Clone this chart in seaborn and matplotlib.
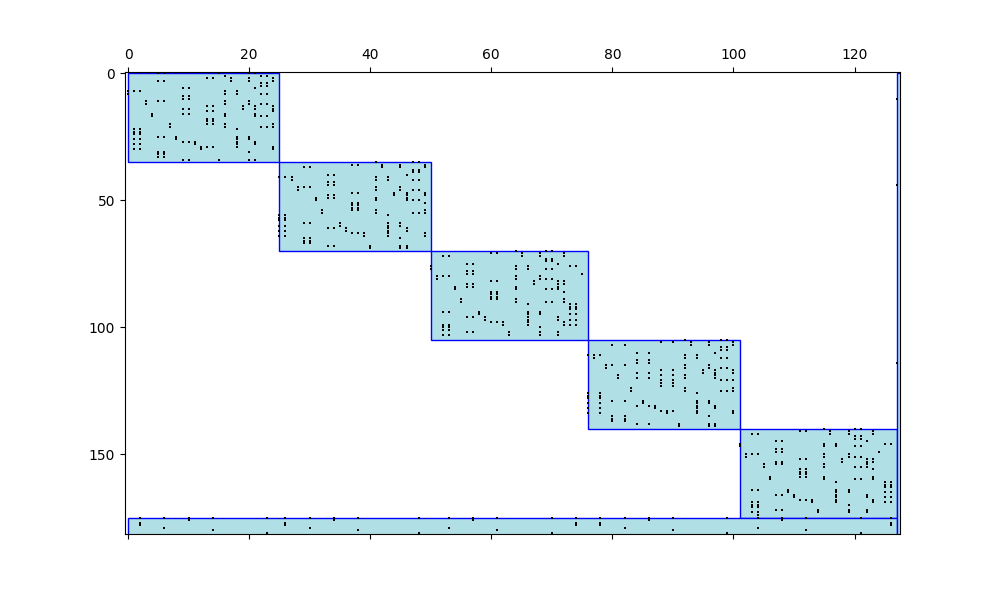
import numpy as np
import pandas as pd
import matplotlib
matplotlib.use("Agg")
import matplotlib.pyplot as plt
from matplotlib.patches import Rectangle
import seaborn as sns

# ---------------- data ----------------
N_ROWS = 182
N_COLS = 128

BLOCK_ROW_STARTS = [0, 35, 70, 105, 140]
BLOCK_COL_STARTS = [0, 25, 50, 76, 101]
BLOCK_WIDTHS = [25, 25, 26, 25, 26]
BLOCK_HEIGHT = 35

# each block: list of rows (local), each row = list of local column indices of nonzeros
BLOCK_1 = [
    [5, 6, 15, 20, 21], [16, 22, 23], [13, 14, 17, 20, 24], [5, 6, 17, 20, 24],
    [22, 23], [22, 23], [9, 10, 21], [0, 1, 2, 16, 18], [0, 16, 18, 22, 23],
    [9, 10], [9, 10], [3, 5, 6, 16, 20], [3, 16, 20, 22, 23],
    [13, 14, 19, 21, 24], [9, 10, 19, 21, 24], [13, 14, 24], [4, 9, 10, 16, 21],
    [4, 16, 21, 22, 23], [13, 14], [13, 14], [7, 13, 14, 16, 24],
    [7, 16, 22, 23, 24], [1, 2, 18], [1, 2], [1, 2], [5, 6, 8, 18, 20],
    [1, 2, 8, 18, 20], [9, 10, 11, 18, 21], [1, 2, 11, 18, 21],
    [12, 13, 14, 18, 24], [1, 2, 12, 24], [5, 6, 20], [5, 6], [5, 6],
    [9, 10, 15, 20, 21],
]
BLOCK_2 = [
    [16, 22, 23], [12, 13, 17, 20, 24], [4, 5, 17, 20, 24], [22, 23], [22, 23],
    [8, 9, 21], [0, 1, 2, 16, 18], [2, 16, 18, 22, 23], [8, 9], [8, 9],
    [3, 4, 5, 16, 20], [3, 16, 20, 22, 23], [12, 13, 19, 21, 24],
    [8, 9, 19, 21, 24], [6, 8, 9, 16, 21], [6, 16, 21, 22, 23], [12, 13, 24],
    [12, 13], [12, 13], [7, 12, 13, 16, 24], [7, 16, 22, 23, 24], [0, 1, 18],
    [0, 1], [0, 1], [4, 5, 10, 18, 20], [0, 1, 10, 18, 20], [8, 9, 11, 18, 21],
    [0, 1, 11, 18, 21], [12, 13, 14, 18, 24], [0, 1, 14, 18, 24], [4, 5, 20],
    [4, 5], [4, 5], [8, 9, 15, 20, 21], [15, 20, 21],
]
BLOCK_3 = [
    [14, 19, 20], [10, 11, 15, 18, 22], [2, 3, 15, 18, 22], [19, 20], [19, 20],
    [6, 7, 21], [0, 14, 16, 23, 24], [0, 14, 16, 19, 20], [6, 7], [6, 7, 25],
    [1, 2, 3, 14, 18], [1, 14, 18, 19, 20], [10, 11, 17, 21, 22],
    [6, 7, 17, 21, 22], [4, 6, 7, 14, 21], [4, 14, 19, 20, 21], [10, 11, 22],
    [10, 11], [10, 11], [5, 10, 11, 14, 22], [5, 14, 19, 20, 22], [16, 23, 24],
    [23, 24], [23, 24], [2, 3, 8, 16, 18], [8, 16, 18, 23, 24],
    [6, 7, 9, 16, 21], [9, 16, 21, 23, 24], [10, 11, 12, 16, 22],
    [2, 3, 12, 16, 22, 23, 24], [2, 3, 18], [2, 3], [6, 7, 13, 18, 21],
    [2, 3, 13, 18, 21], [],
]
BLOCK_4 = [
    [16, 22, 23], [12, 14, 17, 20, 24], [4, 6, 17, 20, 24], [22, 23], [22, 23],
    [8, 10, 21], [0, 1, 2, 16, 18], [1, 16, 18, 22, 23], [8, 10], [8, 10],
    [3, 4, 6, 16, 20], [3, 16, 20, 22, 23], [12, 14, 19, 21, 24],
    [8, 10, 19, 21, 24], [5, 12, 14, 16, 21], [5, 8, 10, 16, 21],
    [12, 14, 22, 23, 24], [12, 14], [12, 14], [7, 16, 24], [7, 16, 22, 23, 24],
    [0, 2, 18], [0, 2], [0, 2], [4, 6, 9, 18, 20], [0, 2, 9, 18, 20],
    [8, 10, 11, 18, 21], [0, 2, 11, 18, 21], [12, 13, 14, 18, 24],
    [0, 2, 13, 18, 24], [4, 6, 20], [4, 6], [4, 6], [8, 10, 15, 20, 21],
    [15, 20, 21],
]
BLOCK_5 = [
    [14, 19, 20], [10, 11, 15, 18, 22], [2, 3, 15, 18, 22], [19, 20], [19, 20],
    [6, 7, 21], [0, 14, 16, 24, 25], [0, 14, 16, 19, 20], [6, 7], [6, 7, 23],
    [1, 2, 3, 14, 18], [1, 14, 18, 19, 20], [10, 11, 17, 21, 22],
    [6, 7, 17, 21, 22], [4, 6, 7, 14, 21], [4, 14, 19, 20, 21], [10, 11, 22],
    [10, 11], [10, 11], [5, 10, 11, 14, 22], [5, 14, 19, 20, 22], [16, 24, 25],
    [24, 25], [24, 25], [2, 3, 8, 16, 18], [8, 16, 18, 24, 25],
    [6, 7, 9, 16, 21], [9, 16, 21, 24, 25], [10, 11, 12, 16, 22],
    [2, 3, 12, 16, 22, 24, 25], [2, 3, 18], [2, 3], [6, 7, 13, 18, 21],
    [2, 3, 13, 18, 21], [3],
]
BLOCKS = [BLOCK_1, BLOCK_2, BLOCK_3, BLOCK_4, BLOCK_5]

# linking rows at the bottom
LINK_ROW_INDEX = [175, 176, 177, 178, 179, 180, 181]
LINK_ROW_COLS = [
    [2, 6, 10, 14, 23, 26, 30, 34, 38, 48, 53, 57, 61, 70, 74, 78, 82, 86, 90,
     99, 104, 108, 112, 121, 126],
    [10, 34, 57, 86, 108],
    [2, 26, 74, 78, 126],
    [2, 26, 74, 78, 126],
    [6, 30, 53, 82, 104],
    [14, 38, 61, 90, 112],
    [23, 48, 70, 99, 121],
]
# linking column at the right
LINK_COL_INDEX = 127
LINK_COL_ROWS = [10, 44, 114]

# ---------------- build nonzero table ----------------
rows, cols = [], []
for blk, r0, c0 in zip(BLOCKS, BLOCK_ROW_STARTS, BLOCK_COL_STARTS):
    for k, rc in enumerate(blk):
        for l in rc:
            rows.append(r0 + k)
            cols.append(c0 + l)
for r, rc in zip(LINK_ROW_INDEX, LINK_ROW_COLS):
    for c in rc:
        rows.append(r)
        cols.append(c)
for r in LINK_COL_ROWS:
    rows.append(r)
    cols.append(LINK_COL_INDEX)
nz = pd.DataFrame({"row": rows, "col": cols})

# ---------------- plot ----------------
fig, ax = plt.subplots(figsize=(10, 6), dpi=100)

FILL = "#b0e0e6"
EDGE = "blue"
for r0, c0, w in zip(BLOCK_ROW_STARTS, BLOCK_COL_STARTS, BLOCK_WIDTHS):
    ax.add_patch(Rectangle((c0, r0), w, BLOCK_HEIGHT, facecolor=FILL,
                           edgecolor=EDGE, linewidth=1, zorder=1))
ax.add_patch(Rectangle((0, LINK_ROW_INDEX[0]), LINK_COL_INDEX, N_ROWS - LINK_ROW_INDEX[0],
                       facecolor=FILL, edgecolor=EDGE, linewidth=1, zorder=1))
ax.add_patch(Rectangle((LINK_COL_INDEX, 0), N_COLS - LINK_COL_INDEX, N_ROWS,
                       facecolor=FILL, edgecolor=EDGE, linewidth=1, zorder=1))

sns.scatterplot(data=nz, x="col", y="row", marker="s", s=4.5, color="black",
                linewidth=0, legend=False, ax=ax, zorder=3)

ax.set_xlim(-0.5, N_COLS - 0.5)
ax.set_ylim(N_ROWS - 0.5, -0.5)
ax.set_xticks(np.arange(0, 121, 20))
ax.set_yticks([0, 50, 100, 150])
ax.xaxis.set_ticks_position("both")
ax.tick_params(axis="x", labeltop=True, labelbottom=False)
ax.set_xlabel("")
ax.set_ylabel("")

fig.savefig("out.png", dpi=100)
